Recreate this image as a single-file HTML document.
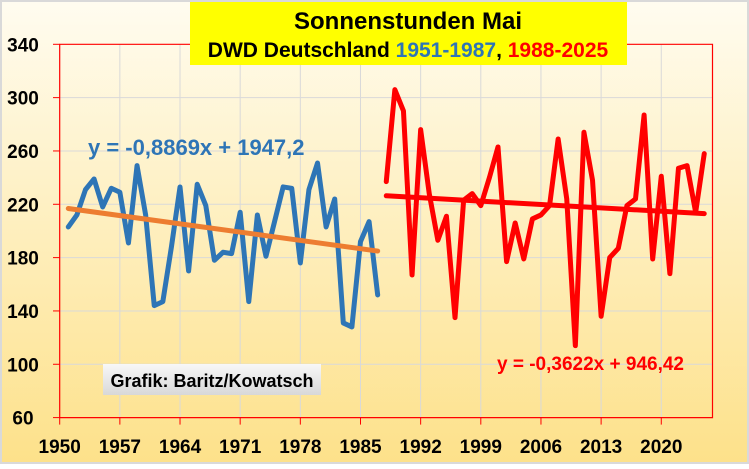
<!DOCTYPE html>
<html><head><meta charset="utf-8"><style>
html,body{margin:0;padding:0;}
body{width:749px;height:464px;overflow:hidden;font-family:"Liberation Sans",sans-serif;}
</style></head><body>
<svg width="749" height="464" xmlns="http://www.w3.org/2000/svg">
<defs><linearGradient id="bg" x1="0" y1="0" x2="0" y2="1"><stop offset="0" stop-color="#fffcf0"/><stop offset="1" stop-color="#fde18a"/></linearGradient>
<linearGradient id="lbl" x1="0" y1="0" x2="0" y2="1"><stop offset="0" stop-color="#f8f8f8"/><stop offset="1" stop-color="#d8d8d8"/></linearGradient></defs>
<rect x="1" y="1" width="747" height="462" fill="url(#bg)" stroke="#d9d9d9" stroke-width="2"/>
<g id="grid"></g>
<g id="axes"></g>
<g id="series"></g>
<rect x="190" y="2" width="437" height="63" fill="#ffff00"/>
<text x="408" y="29" text-anchor="middle" font-size="24" font-weight="bold" fill="#000">Sonnenstunden Mai</text>
<text x="408" y="57" text-anchor="middle" font-size="21" font-weight="bold"><tspan fill="#000">DWD Deutschland </tspan><tspan fill="#2e75b6">1951-1987</tspan><tspan fill="#000">, </tspan><tspan fill="#ff0000">1988-2025</tspan></text>
<text x="88" y="155" font-size="22" font-weight="bold" fill="#2e75b6">y = -0,8869x + 1947,2</text>
<text x="497" y="370" font-size="19" font-weight="bold" fill="#ff0000">y = -0,3622x + 946,42</text>
<rect x="103" y="364" width="218" height="31" fill="url(#lbl)"/>
<text x="212" y="387" text-anchor="middle" font-size="18" font-weight="bold" fill="#000">Grafik: Baritz/Kowatsch</text>
</svg>
<script>
const yTicks=[60,100,140,180,220,260,300,340];
const xTicks=[1950,1957,1964,1971,1978,1985,1992,1999,2006,2013,2020];
const years1=[1951,1952,1953,1954,1955,1956,1957,1958,1959,1960,1961,1962,1963,1964,1965,1966,1967,1968,1969,1970,1971,1972,1973,1974,1975,1976,1977,1978,1979,1980,1981,1982,1983,1984,1985,1986,1987];
const values1=[203,212,231,239,218,232,229,191,249,212,144,147,188,233,170,235,219,178,184,183,214,147,212,181,207,233,232,176,231,251,203,224,131,128,192,207,152];
const years2=[1988,1989,1990,1991,1992,1993,1994,1995,1996,1997,1998,1999,2000,2001,2002,2003,2004,2005,2006,2007,2008,2009,2010,2011,2012,2013,2014,2015,2016,2017,2018,2019,2020,2021,2022,2023,2024,2025];
const values2=[237,306,290,167,276,228,193,211,135,223,228,219,240,263,177,206,179,209,212,219,269,224,114,274,238,136,180,187,219,224,287,179,241,168,247,249,214,258];
const trend1=[-0.8869,1947.2];
const trend2=[-0.3622,946.42];
const NS="http://www.w3.org/2000/svg";
const L=59.7,R=712.5,T=44.3,B=417.6;
const xs=y=>L+(y-1950)*8.594;
const ys=v=>B-(v-60)*(B-T)/280;
function mk(p,tag,a){const e=document.createElementNS(NS,tag);for(const k in a)e.setAttribute(k,a[k]);p.appendChild(e);return e;}
const grid=document.getElementById('grid'),axes=document.getElementById('axes'),ser=document.getElementById('series');
yTicks.forEach(v=>{
 if(v>60&&v<340){const g=mk(grid,'line',{x1:L,x2:R,y1:ys(v),y2:ys(v),stroke:'#d9d9d9','stroke-width':1});
 
 }
 const t=mk(axes,'line',{x1:53,x2:L,y1:ys(v),y2:ys(v),stroke:'#ff0000','stroke-width':1});
 
 
 const tx=mk(axes,'text',{x:23,y:ys(v)+7,'text-anchor':'middle','font-size':19,'font-weight':'bold',fill:'#000'});
 tx.textContent=v;
 
 
});
xTicks.forEach(y=>{
 if(y>1950){const g=mk(grid,'line',{x1:xs(y),x2:xs(y),y1:T,y2:B,stroke:'#d9d9d9','stroke-width':1});
 
 }
 const t=mk(axes,'line',{x1:xs(y),x2:xs(y),y1:B,y2:B+7,stroke:'#ff0000','stroke-width':1});
 
 
 const tx=mk(axes,'text',{x:xs(y),y:453,'text-anchor':'middle','font-size':19,'font-weight':'bold',fill:'#000'});
 tx.textContent=y;
 
 
});
const fr=mk(axes,'path',{d:`M${L},${T}H${R}V${B}H${L}Z`,fill:'none',stroke:'#ff0000','stroke-width':1.2});


function line(yrs,vals,col,w,name){
 const p=mk(ser,'polyline',{points:yrs.map((y,i)=>xs(y)+','+ys(vals[i])).join(' '),fill:'none',stroke:col,'stroke-width':w,'stroke-linejoin':'round','stroke-linecap':'round'});
 
 
}
line(years1,values1,'#2e75b6',5,'series-1951-1987');
line(years2,values2,'#ff0000',5,'series-1988-2025');
function trend(yrs,c,col,name){
 const a=yrs[0],b=yrs[yrs.length-1];
 line([a,b],[c[0]*a+c[1],c[0]*b+c[1]],col,5,name);
}
trend(years1,trend1,'#ed7d31','trendline-1951-1987');
trend(years2,trend2,'#ff0000','trendline-1988-2025');
</script>
</body></html>
